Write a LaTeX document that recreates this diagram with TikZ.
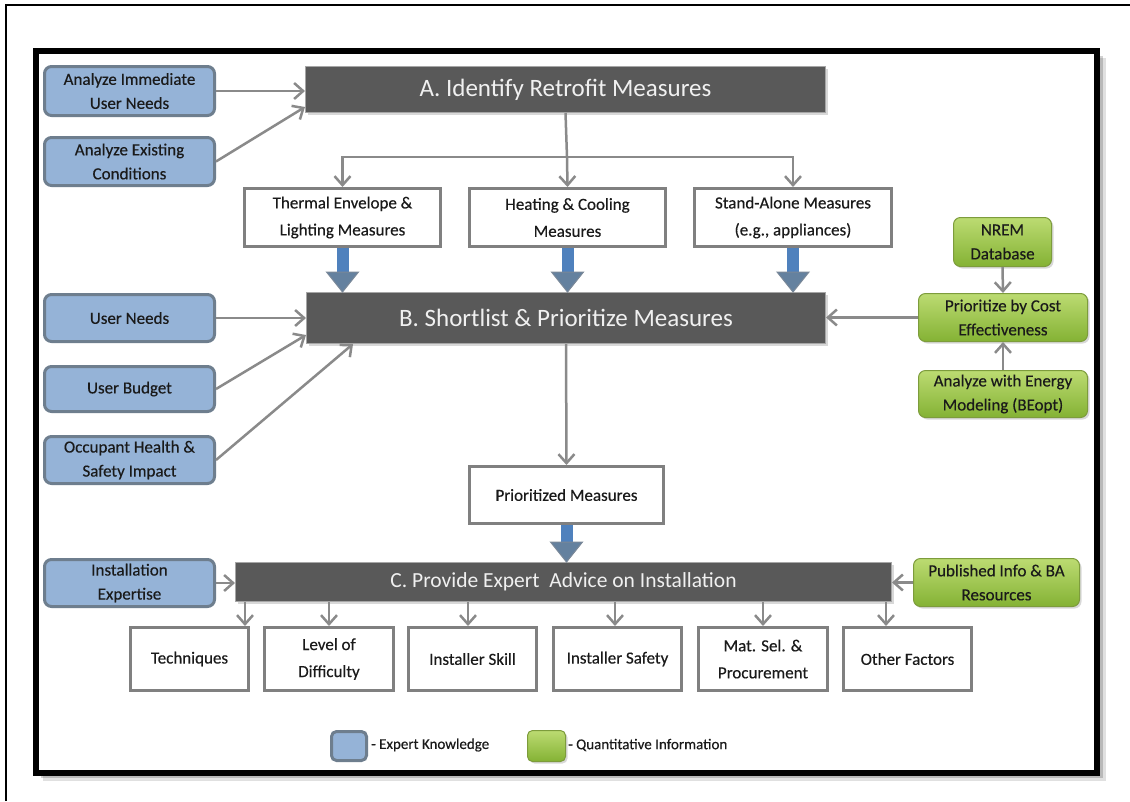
\documentclass[tikz,border=0pt]{standalone}
\usepackage{fontspec}
\setmainfont{Carlito}[BoldFont=Carlito, BoldFeatures={FakeBold=0.35}]
\usetikzlibrary{arrows.meta,calc,shadows}

\definecolor{bluefill}{HTML}{95B3D7}
\definecolor{blueedge}{HTML}{6E7E8E}
\definecolor{greentop}{HTML}{BCDB72}
\definecolor{greenbot}{HTML}{84B234}
\definecolor{greenedge}{HTML}{7D9C3C}
\definecolor{darkfill}{HTML}{595959}
\definecolor{boxedge}{HTML}{808080}
\definecolor{linkgray}{HTML}{8A8A8A}
\definecolor{fatblue}{HTML}{4F81BD}
\definecolor{fathead}{HTML}{64819F}
\definecolor{fatedge}{HTML}{7A8898}
\definecolor{inktext}{HTML}{1A1A1A}

% broad blue arrow between two stacked boxes
\newcommand\fatarrow[2]{%
  \fill[fatblue] let \p1=(#1), \p2=(#2) in (\x1-6pt,\y1) rectangle (\x1+6pt,\y2+20pt);
  \filldraw[fill=fathead, draw=fatedge, line width=1pt]
    let \p1=(#1), \p2=(#2) in (\x1-16pt,\y2+20pt) -- (\x1+16pt,\y2+20pt) -- (\x1,\y2) -- cycle;}

\begin{document}
\begin{tikzpicture}[x=1pt,y=-1pt,
  expert/.style={draw=blueedge, line width=3pt, fill=bluefill, rounded corners=7pt,
    align=center, text=inktext, inner sep=0pt, minimum width=170pt,
    font=\fontsize{17}{24}\selectfont\bfseries},
  quant/.style={draw=greenedge, line width=1pt, top color=greentop, bottom color=greenbot,
    rounded corners=7pt, align=center, text=inktext, inner sep=0pt,
    font=\fontsize{17}{24}\selectfont\bfseries,
    drop shadow={opacity=0.3, shadow xshift=2pt, shadow yshift=-2pt}},
  stage/.style={fill=darkfill, draw=boxedge!70, line width=1pt, text=white!94!black,
    inner sep=0pt, font=\fontsize{25}{30}\selectfont,
    drop shadow={opacity=0.3, shadow xshift=2pt, shadow yshift=-2pt}},
  item/.style={draw=boxedge, line width=3pt, fill=white, align=center, text=inktext,
    inner sep=0pt, font=\fontsize{17}{27}\selectfont\bfseries},
  link/.style={draw=linkgray, line width=2.5pt, -{Straight Barb[length=9pt,width=16pt]}},
  legendtext/.style={anchor=west, inner sep=0pt, text=inktext, font=\fontsize{15}{18}\selectfont\bfseries}
]
\useasboundingbox (0,0) rectangle (1130,801);

% page frame
\draw[line width=2pt] (6,801) -- (6,5) -- (1130,5);
\draw[black, opacity=0.12, line width=8pt] (1102,58) -- (1102,777) -- (43,777);
\draw[black, opacity=0.18, line width=5pt] (1100,56) -- (1100,775) -- (41,775);
\draw[line width=6pt, fill=white] (36,50.5) rectangle (1097,772.5);

% stages
\node[stage, minimum width=520pt, minimum height=46pt] (A) at (565.5,89.5) {A. Identify Retrofit Measures};
\node[stage, minimum width=519pt, minimum height=51pt] (B) at (566,318) {B. Shortlist \& Prioritize Measures};
\node[stage, minimum width=656pt, minimum height=39pt, font=\fontsize{21.5}{26}\selectfont] (C) at (563.5,582) {C. Provide Expert\ \ Advice on Installation};

% expert knowledge inputs
\node[expert, minimum height=49pt] (ain) at (129.5,91) {Analyze Immediate\\User Needs};
\node[expert, minimum height=48pt] (aex) at (129.5,161.5) {Analyze Existing\\Conditions};
\node[expert, minimum height=47pt] (un) at (129.5,318) {User Needs};
\node[expert, minimum height=45pt] (ub) at (129.5,389) {User Budget};
\node[expert, minimum height=47pt] (oh) at (129.5,460) {Occupant Health \&\\Safety Impact};
\node[expert, minimum height=47pt] (ie) at (129.5,583) {Installation\\Expertise};

% quantitative inputs
\node[quant, minimum width=98pt, minimum height=49pt] (nrem) at (1002.5,242) {NREM\\Database};
\node[quant, minimum width=169pt, minimum height=48pt] (pce) at (1003,317.5) {Prioritize\ by Cost\\Effectiveness};
\node[quant, minimum width=169pt, minimum height=47pt] (aem) at (1003,394) {Analyze with Energy\\Modeling (BEopt)};
\node[quant, minimum width=166pt, minimum height=48pt] (pib) at (996.5,582.5) {Published Info \& BA\\Resources};

% measure groups
\node[item, minimum width=196pt, minimum height=58pt] (th) at (342.5,217.5) {Thermal Envelope \&\\Lighting Measures};
\node[item, minimum width=196pt, minimum height=58pt] (hc) at (567.5,217.5) {Heating \& Cooling\\Measures};
\node[item, minimum width=197pt, minimum height=58pt] (sa) at (793,217.5) {Stand-Alone Measures\\(e.g., appliances)};
\node[item, minimum width=194pt, minimum height=57pt] (pm) at (566.5,495) {Prioritized Measures};

% installation advice topics
\node[item, minimum width=118pt, minimum height=63pt] (t1) at (189.5,659) {Techniques};
\node[item, minimum width=129pt, minimum height=63pt] (t2) at (329,659) {Level of\\Difficulty};
\node[item, minimum width=128pt, minimum height=63pt] (t3) at (472.5,659) {Installer Skill};
\node[item, minimum width=128pt, minimum height=63pt] (t4) at (617.5,659) {Installer Safety};
\node[item, minimum width=129pt, minimum height=63pt] (t5) at (763,659) {Mat. Sel. \&\\Procurement};
\node[item, minimum width=128pt, minimum height=63pt] (t6) at (907.5,659) {Other Factors};

% connectors into A
\draw[link] (ain.east) -- (ain.east -| A.west);
\draw[link] (aex.east) -- ([yshift=6pt]A.south west);

% branching from A
\coordinate (br) at (567,157);
\draw[linkgray, line width=2.5pt] (A.south) -- (br);
\draw[link] (br) -- (hc.north);
\draw[link] (br) -| (th.north);
\draw[link] (br) -| (sa.north);

% broad arrows into B and C
\fatarrow{th.south}{th.south |- B.north}
\fatarrow{hc.south}{hc.south |- B.north}
\fatarrow{sa.south}{sa.south |- B.north}
\fatarrow{pm.south}{pm.south |- C.north}

% connectors into B
\draw[link] (un.east) -- (un.east -| B.west);
\draw[link] (ub.east) -- ([yshift=9pt]B.south west);
\draw[link] (oh.east) -- ([xshift=47pt]B.south west);
\draw[link] (nrem.south) -- (pce.north);
\draw[link] (aem.north) -- (pce.south);
\draw[link] (pce.west) -- (pce.west -| B.east);
\draw[link] (B.south) -- (pm.north);

% connectors into C
\draw[link] (ie.east) -- (ie.east -| C.west);
\draw[link] (pib.west) -- (pib.west -| C.east);

% connectors out of C
\draw[link] (C.south -| 245,0) -- (t1.north -| 245,0);
\draw[link] (C.south -| t2.north) -- (t2.north);
\draw[link] (C.south -| 468,0) -- (t3.north -| 468,0);
\draw[link] (C.south -| 615,0) -- (t4.north -| 615,0);
\draw[link] (C.south -| t5.north) -- (t5.north);
\draw[link] (C.south -| 886,0) -- (t6.north -| 886,0);

% legend
\node[expert, minimum width=35pt, minimum height=29pt, rounded corners=5pt] (kb) at (349,746) {};
\node[legendtext] (kt) at (371,745) {- Expert Knowledge};
\node[quant, minimum width=38pt, minimum height=31pt, rounded corners=5pt] (qb) at (546.5,746) {};
\node[legendtext] (qt) at (568,745) {- Quantitative\ Information};
\end{tikzpicture}
\end{document}
